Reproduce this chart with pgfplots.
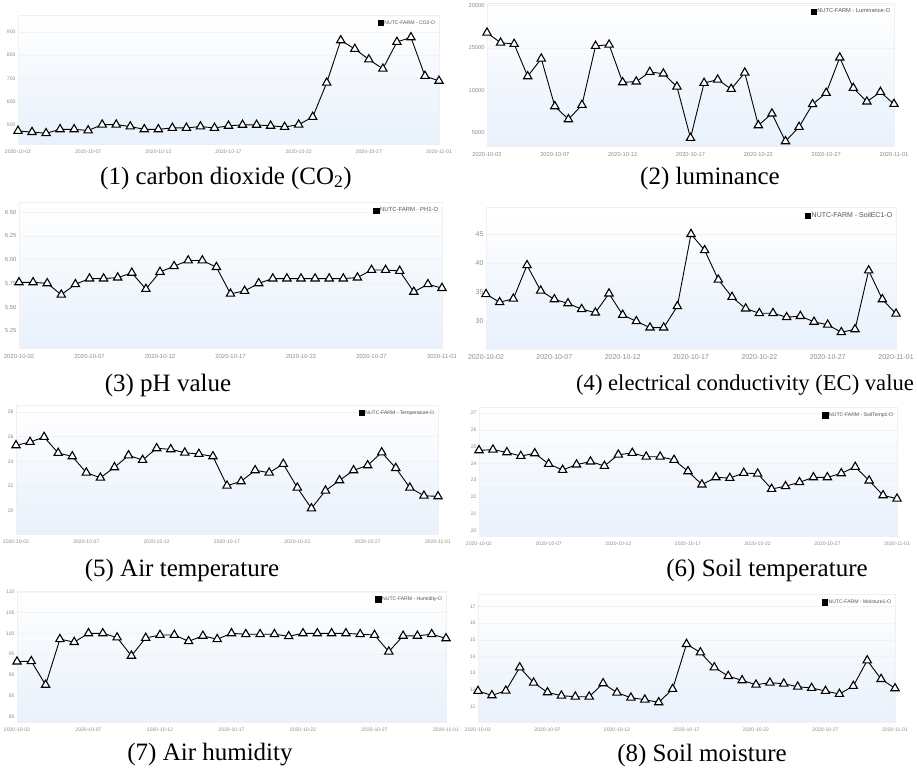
\documentclass[border=0pt]{standalone}
\usepackage{fontspec}
\setmainfont{Liberation Serif}
\newfontfamily\ticksf{Liberation Sans}
\usepackage{pgfplots}
\pgfplotsset{compat=1.18}
\definecolor{bgblue}{RGB}{232,241,252}
\definecolor{tickgray}{RGB}{140,140,140}
\definecolor{leggray}{RGB}{85,85,85}
\pgfplotsset{
  panel/.style={
    scale only axis, anchor=south west, clip=false,
    xmin=0, xmax=30, xtick={0,5,...,30},
    xticklabels={2020-10-02,2020-10-07,2020-10-12,2020-10-17,2020-10-22,2020-10-27,2020-11-01},
    major tick length=0pt,
    axis line style={draw=gray!12},
    ymajorgrids, grid style={draw=gray!10, line width=0.4pt},
    axis background/.style={top color=white, bottom color=bgblue},
    tick label style={text=tickgray, font=\ticksf\fontsize{#1}{#1}\selectfont},
    /pgf/number format/assume math mode=true,
    scaled y ticks=false,
    yticklabel style={/pgf/number format/1000 sep={}, xshift=1pt},
    xticklabel style={yshift=-2.5pt},
    legend style={at={(1,1)}, anchor=north east, xshift=-3pt, yshift=-5pt,
      draw=none, fill=none, inner sep=0pt, text=leggray,
      font=\ticksf\fontsize{#1}{#1}\selectfont, nodes={inner sep=0.6pt}},
    legend image code/.code={\fill[black] (0pt,-2.6pt) rectangle (5.2pt,2.6pt);},
  },
  line/.style={black, line width=0.9pt, mark=triangle*, mark size=4.8pt,
    mark options={fill=white, draw=black, line width=1.1pt, solid}},
}
\begin{document}
\begin{tikzpicture}
\path[use as bounding box] (0,0) rectangle (917pt,768pt);

% (1) CO2
\begin{axis}[panel=5.1, at={(18pt,624pt)}, width=421pt, height=129pt,
  ymin=418, ymax=972, ytick={500,600,700,800,900}]
\addplot[line] coordinates {(0,474)(1,469)(2,464)(3,481)(4,481)(5,476)(6,501)(7,501)(8,493)(9,481)(10,481)(11,487)(12,487)(13,493)(14,487)(15,496)(16,500)(17,500)(18,496)(19,491)(20,501)(21,534)(22,681)(23,863)(24,826)(25,781)(26,741)(27,856)(28,876)(29,710)(30,689)};
\legend{NUTC-FARM - CO2-O}
\end{axis}

% (2) luminance
\begin{axis}[panel=5.7, at={(487pt,622pt)}, width=407pt, height=143pt,
  ymin=3470, ymax=20270, ytick={5000,10000,15000,20000}]
\addplot[line] coordinates {(0,16780)(1,15600)(2,15450)(3,11650)(4,13730)(5,8130)(6,6600)(7,8290)(8,15220)(9,15370)(10,10950)(11,11030)(12,12160)(13,11970)(14,10440)(15,4410)(16,10870)(17,11260)(18,10170)(19,12080)(20,5900)(21,7270)(22,4020)(23,5700)(24,8370)(25,9700)(26,13850)(27,10280)(28,8680)(29,9810)(30,8400)};
\legend{NUTC-FARM - Luminance-O}
\end{axis}

% (3) pH
\begin{axis}[panel=5.9, at={(19pt,420pt)}, width=423pt, height=146pt,
  ymin=5.07, ymax=6.605, ytick={5.25,5.5,5.75,6,6.25,6.5},
  yticklabel style={/pgf/number format/.cd, fixed, fixed zerofill, precision=2}]
\addplot[line] coordinates {(0,5.76)(1,5.76)(2,5.75)(3,5.63)(4,5.74)(5,5.80)(6,5.80)(7,5.81)(8,5.86)(9,5.69)(10,5.87)(11,5.93)(12,5.99)(13,5.99)(14,5.92)(15,5.64)(16,5.67)(17,5.75)(18,5.80)(19,5.80)(20,5.80)(21,5.80)(22,5.80)(23,5.80)(24,5.81)(25,5.89)(26,5.89)(27,5.88)(28,5.66)(29,5.74)(30,5.70)};
\legend{NUTC-FARM - PH1-O}
\end{axis}

% (4) EC
\begin{axis}[panel=7, at={(486pt,419pt)}, width=410pt, height=142pt,
  ymin=25.1, ymax=49.7, ytick={30,35,40,45}]
\addplot[line] coordinates {(0,34.6)(1,33.2)(2,33.8)(3,39.6)(4,35.2)(5,33.7)(6,33.0)(7,32.0)(8,31.4)(9,34.7)(10,31.0)(11,29.9)(12,28.8)(13,28.8)(14,32.5)(15,45.0)(16,42.2)(17,37.1)(18,34.1)(19,32.1)(20,31.3)(21,31.3)(22,30.6)(23,30.8)(24,29.8)(25,29.3)(26,28.0)(27,28.5)(28,38.7)(29,33.7)(30,31.2)};
\legend{NUTC-FARM - SoilEC1-O}
\end{axis}

% (5) air temperature
\begin{axis}[panel=5.1, at={(16pt,234pt)}, width=422pt, height=129pt,
  ymin=18.15, ymax=28.54, ytick={20,22,24,26,28}]
\addplot[line] coordinates {(0,25.29)(1,25.56)(2,25.96)(3,24.67)(4,24.40)(5,23.09)(6,22.68)(7,23.52)(8,24.48)(9,24.11)(10,25.05)(11,24.97)(12,24.70)(13,24.59)(14,24.40)(15,22.04)(16,22.39)(17,23.28)(18,23.09)(19,23.79)(20,21.88)(21,20.21)(22,21.64)(23,22.47)(24,23.28)(25,23.68)(26,24.72)(27,23.46)(28,21.88)(29,21.23)(30,21.18)};
\legend{NUTC-FARM - Temperature-O}
\end{axis}

% (6) soil temperature
\begin{axis}[panel=5.1, at={(479pt,232pt)}, width=418pt, height=129pt,
  ymin=19.68, ymax=27.36, ytick={20,21,22,23,24,25,26,27}]
\addplot[line] coordinates {(0,24.78)(1,24.82)(2,24.66)(3,24.44)(4,24.60)(5,23.97)(6,23.61)(7,23.93)(8,24.11)(9,23.85)(10,24.52)(11,24.62)(12,24.40)(13,24.40)(14,24.21)(15,23.53)(16,22.74)(17,23.17)(18,23.13)(19,23.43)(20,23.39)(21,22.48)(22,22.64)(23,22.88)(24,23.17)(25,23.17)(26,23.41)(27,23.79)(28,22.98)(29,22.10)(30,21.90)};
\legend{NUTC-FARM - SoilTemp1-O}
\end{axis}

% (7) air humidity
\begin{axis}[panel=5.1, at={(17pt,46pt)}, width=429pt, height=131pt,
  ymin=78.67, ymax=110.2, ytick={80,85,90,95,100,105,110}]
\addplot[line] coordinates {(0,93.2)(1,93.3)(2,87.6)(3,98.6)(4,97.9)(5,100)(6,100)(7,99.0)(8,94.6)(9,98.9)(10,99.6)(11,99.6)(12,98.1)(13,99.4)(14,98.6)(15,100)(16,99.8)(17,99.8)(18,99.8)(19,99.3)(20,100)(21,100)(22,100)(23,100)(24,99.8)(25,99.6)(26,95.6)(27,99.4)(28,99.4)(29,99.8)(30,98.8)};
\legend{NUTC-FARM - Humidity-O}
\end{axis}

% (8) soil moisture
\begin{axis}[panel=5.1, at={(478pt,46pt)}, width=417pt, height=128pt,
  ymin=10.06, ymax=17.75, ytick={11,12,13,14,15,16,17}]
\addplot[line] coordinates {(0,11.92)(1,11.66)(2,11.94)(3,13.34)(4,12.42)(5,11.84)(6,11.64)(7,11.58)(8,11.58)(9,12.38)(10,11.82)(11,11.52)(12,11.40)(13,11.24)(14,12.04)(15,14.74)(16,14.24)(17,13.34)(18,12.82)(19,12.56)(20,12.30)(21,12.42)(22,12.36)(23,12.18)(24,12.10)(25,11.92)(26,11.74)(27,12.22)(28,13.76)(29,12.64)(30,12.08)};
\legend{NUTC-FARM - Moisture1-O}
\end{axis}

% captions
\begin{scope}[every node/.style={font=\fontsize{25}{28}\selectfont, inner sep=0pt}]
\node at (226pt,590pt) {(1) carbon dioxide (CO\textsubscript{2})};
\node at (710pt,590pt) {(2) luminance};
\node at (168pt,383pt) {(3) pH value};
\node[font=\fontsize{22.6}{27}\selectfont] at (745pt,383pt) {(4) electrical conductivity (EC) value};
\node at (182pt,198pt) {(5) Air temperature};
\node at (767pt,198pt) {(6) Soil temperature};
\node at (210pt,13pt) {(7) Air humidity};
\node at (702pt,13pt) {(8) Soil moisture};
\end{scope}
\end{tikzpicture}
\end{document}
